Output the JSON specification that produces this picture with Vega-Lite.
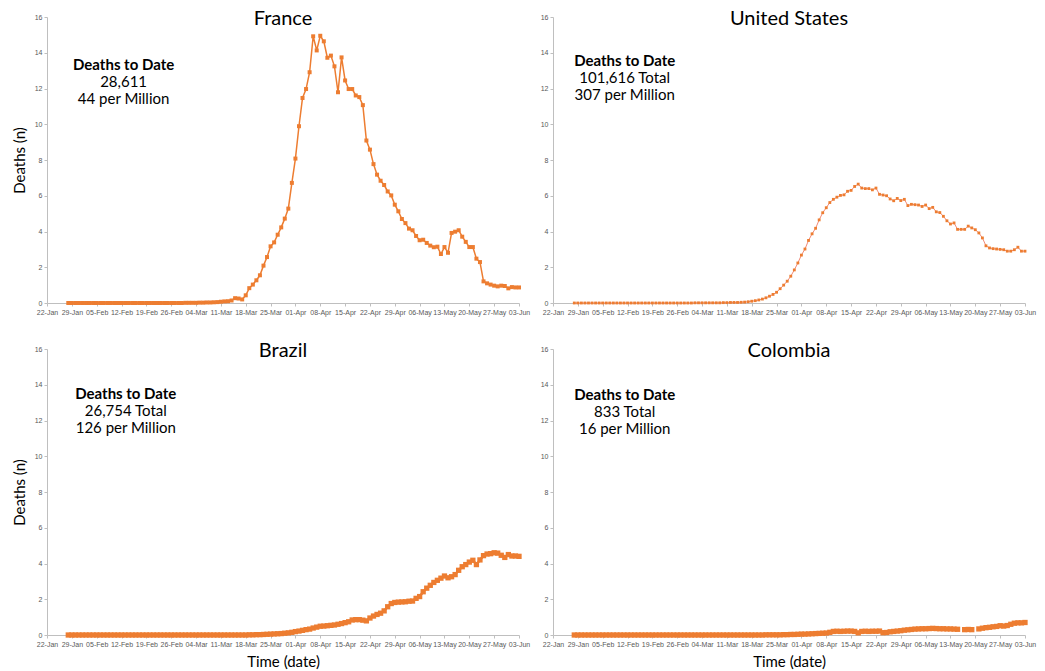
{
  "$schema": "https://vega.github.io/schema/vega-lite/v6.json",
  "padding": {"left": 12, "top": 8, "right": 5, "bottom": 2},
  "background": "white",
  "columns": 2,
  "spacing": {"row": 46, "column": 34},
  "bounds": "flush",
  "datasets": {
    "fr": [
      {"d":"2020-01-28","v":0},{"d":"2020-01-29","v":0},{"d":"2020-01-30","v":0},{"d":"2020-01-31","v":0},
      {"d":"2020-02-01","v":0},{"d":"2020-02-02","v":0},{"d":"2020-02-03","v":0},{"d":"2020-02-04","v":0},{"d":"2020-02-05","v":0},{"d":"2020-02-06","v":0},{"d":"2020-02-07","v":0},{"d":"2020-02-08","v":0},{"d":"2020-02-09","v":0},{"d":"2020-02-10","v":0},
      {"d":"2020-02-11","v":0},{"d":"2020-02-12","v":0},{"d":"2020-02-13","v":0},{"d":"2020-02-14","v":0},{"d":"2020-02-15","v":0},{"d":"2020-02-16","v":0},{"d":"2020-02-17","v":0},{"d":"2020-02-18","v":0},{"d":"2020-02-19","v":0},{"d":"2020-02-20","v":0},
      {"d":"2020-02-21","v":0},{"d":"2020-02-22","v":0},{"d":"2020-02-23","v":0},{"d":"2020-02-24","v":0},{"d":"2020-02-25","v":0},{"d":"2020-02-26","v":0},{"d":"2020-02-27","v":0},{"d":"2020-02-28","v":0},{"d":"2020-02-29","v":0},
      {"d":"2020-03-01","v":0.01},{"d":"2020-03-02","v":0.01},{"d":"2020-03-03","v":0.01},{"d":"2020-03-04","v":0.01},{"d":"2020-03-05","v":0.02},{"d":"2020-03-06","v":0.02},{"d":"2020-03-07","v":0.03},{"d":"2020-03-08","v":0.03},{"d":"2020-03-09","v":0.04},{"d":"2020-03-10","v":0.05},
      {"d":"2020-03-11","v":0.07},{"d":"2020-03-12","v":0.09},{"d":"2020-03-13","v":0.1},{"d":"2020-03-14","v":0.14},{"d":"2020-03-15","v":0.27},{"d":"2020-03-16","v":0.25},{"d":"2020-03-17","v":0.2},{"d":"2020-03-18","v":0.43},{"d":"2020-03-19","v":0.83},{"d":"2020-03-20","v":1.03},
      {"d":"2020-03-21","v":1.27},{"d":"2020-03-22","v":1.55},{"d":"2020-03-23","v":2.09},{"d":"2020-03-24","v":2.57},{"d":"2020-03-25","v":3.17},{"d":"2020-03-26","v":3.39},{"d":"2020-03-27","v":3.82},{"d":"2020-03-28","v":4.23},{"d":"2020-03-29","v":4.72},{"d":"2020-03-30","v":5.28},{"d":"2020-03-31","v":6.72},
      {"d":"2020-04-01","v":8.08},{"d":"2020-04-02","v":9.89},{"d":"2020-04-03","v":11.47},{"d":"2020-04-04","v":11.97},{"d":"2020-04-05","v":12.91},{"d":"2020-04-06","v":14.92},{"d":"2020-04-07","v":14.13},{"d":"2020-04-08","v":14.95},{"d":"2020-04-09","v":14.64},{"d":"2020-04-10","v":13.72},
      {"d":"2020-04-11","v":13.84},{"d":"2020-04-12","v":13.24},{"d":"2020-04-13","v":11.79},{"d":"2020-04-14","v":13.74},{"d":"2020-04-15","v":12.45},{"d":"2020-04-16","v":11.97},{"d":"2020-04-17","v":11.97},{"d":"2020-04-18","v":11.61},{"d":"2020-04-19","v":11.52},{"d":"2020-04-20","v":11.07},
      {"d":"2020-04-21","v":9.09},{"d":"2020-04-22","v":8.58},{"d":"2020-04-23","v":7.77},{"d":"2020-04-24","v":7.18},{"d":"2020-04-25","v":6.84},{"d":"2020-04-26","v":6.6},{"d":"2020-04-27","v":6.24},{"d":"2020-04-28","v":6.02},{"d":"2020-04-29","v":5.5},{"d":"2020-04-30","v":5.13},
      {"d":"2020-05-01","v":4.7},{"d":"2020-05-02","v":4.47},{"d":"2020-05-03","v":4.16},{"d":"2020-05-04","v":4.07},{"d":"2020-05-05","v":3.75},{"d":"2020-05-06","v":3.51},{"d":"2020-05-07","v":3.54},{"d":"2020-05-08","v":3.36},{"d":"2020-05-09","v":3.21},{"d":"2020-05-10","v":3.12},
      {"d":"2020-05-11","v":3.15},{"d":"2020-05-12","v":2.74},{"d":"2020-05-13","v":3.13},{"d":"2020-05-14","v":2.81},{"d":"2020-05-15","v":3.92},{"d":"2020-05-16","v":3.99},{"d":"2020-05-17","v":4.07},{"d":"2020-05-18","v":3.71},{"d":"2020-05-19","v":3.42},{"d":"2020-05-20","v":3.13},
      {"d":"2020-05-21","v":3.13},{"d":"2020-05-22","v":2.48},{"d":"2020-05-23","v":2.29},{"d":"2020-05-24","v":1.21},{"d":"2020-05-25","v":1.1},{"d":"2020-05-26","v":1.03},{"d":"2020-05-27","v":0.97},{"d":"2020-05-28","v":0.93},{"d":"2020-05-29","v":0.97},{"d":"2020-05-30","v":0.95},{"d":"2020-05-31","v":0.82},
      {"d":"2020-06-01","v":0.89},{"d":"2020-06-02","v":0.87},{"d":"2020-06-03","v":0.87}
    ],
    "us": [
      {"d":"2020-01-28","v":0},{"d":"2020-01-29","v":0},{"d":"2020-01-30","v":0},{"d":"2020-01-31","v":0},
      {"d":"2020-02-01","v":0},{"d":"2020-02-02","v":0},{"d":"2020-02-03","v":0},{"d":"2020-02-04","v":0},{"d":"2020-02-05","v":0},{"d":"2020-02-06","v":0},{"d":"2020-02-07","v":0},{"d":"2020-02-08","v":0},{"d":"2020-02-09","v":0},{"d":"2020-02-10","v":0},
      {"d":"2020-02-11","v":0},{"d":"2020-02-12","v":0},{"d":"2020-02-13","v":0},{"d":"2020-02-14","v":0},{"d":"2020-02-15","v":0},{"d":"2020-02-16","v":0},{"d":"2020-02-17","v":0},{"d":"2020-02-18","v":0},{"d":"2020-02-19","v":0},{"d":"2020-02-20","v":0},
      {"d":"2020-02-21","v":0},{"d":"2020-02-22","v":0},{"d":"2020-02-23","v":0},{"d":"2020-02-24","v":0},{"d":"2020-02-25","v":0},{"d":"2020-02-26","v":0},{"d":"2020-02-27","v":0},{"d":"2020-02-28","v":0},{"d":"2020-02-29","v":0},
      {"d":"2020-03-01","v":0},{"d":"2020-03-02","v":0.01},{"d":"2020-03-03","v":0.01},{"d":"2020-03-04","v":0.01},{"d":"2020-03-05","v":0.01},{"d":"2020-03-06","v":0.01},{"d":"2020-03-07","v":0.01},{"d":"2020-03-08","v":0.01},{"d":"2020-03-09","v":0.01},{"d":"2020-03-10","v":0.02},
      {"d":"2020-03-11","v":0.02},{"d":"2020-03-12","v":0.03},{"d":"2020-03-13","v":0.03},{"d":"2020-03-14","v":0.03},{"d":"2020-03-15","v":0.04},{"d":"2020-03-16","v":0.05},{"d":"2020-03-17","v":0.07},{"d":"2020-03-18","v":0.1},{"d":"2020-03-19","v":0.13},{"d":"2020-03-20","v":0.17},
      {"d":"2020-03-21","v":0.22},{"d":"2020-03-22","v":0.29},{"d":"2020-03-23","v":0.38},{"d":"2020-03-24","v":0.48},{"d":"2020-03-25","v":0.6},{"d":"2020-03-26","v":0.8},{"d":"2020-03-27","v":1.0},{"d":"2020-03-28","v":1.22},{"d":"2020-03-29","v":1.5},{"d":"2020-03-30","v":1.85},{"d":"2020-03-31","v":2.24},
      {"d":"2020-04-01","v":2.68},{"d":"2020-04-02","v":3.02},{"d":"2020-04-03","v":3.5},{"d":"2020-04-04","v":3.87},{"d":"2020-04-05","v":4.18},{"d":"2020-04-06","v":4.65},{"d":"2020-04-07","v":5.05},{"d":"2020-04-08","v":5.33},{"d":"2020-04-09","v":5.62},{"d":"2020-04-10","v":5.8},
      {"d":"2020-04-11","v":5.92},{"d":"2020-04-12","v":6.02},{"d":"2020-04-13","v":6.05},{"d":"2020-04-14","v":6.25},{"d":"2020-04-15","v":6.3},{"d":"2020-04-16","v":6.52},{"d":"2020-04-17","v":6.65},{"d":"2020-04-18","v":6.43},{"d":"2020-04-19","v":6.4},{"d":"2020-04-20","v":6.4},
      {"d":"2020-04-21","v":6.33},{"d":"2020-04-22","v":6.43},{"d":"2020-04-23","v":6.08},{"d":"2020-04-24","v":6.04},{"d":"2020-04-25","v":6.0},{"d":"2020-04-26","v":5.82},{"d":"2020-04-27","v":5.72},{"d":"2020-04-28","v":5.85},{"d":"2020-04-29","v":5.73},{"d":"2020-04-30","v":5.8},
      {"d":"2020-05-01","v":5.45},{"d":"2020-05-02","v":5.52},{"d":"2020-05-03","v":5.5},{"d":"2020-05-04","v":5.48},{"d":"2020-05-05","v":5.4},{"d":"2020-05-06","v":5.48},{"d":"2020-05-07","v":5.28},{"d":"2020-05-08","v":5.35},{"d":"2020-05-09","v":5.1},{"d":"2020-05-10","v":5.06},
      {"d":"2020-05-11","v":4.85},{"d":"2020-05-12","v":4.6},{"d":"2020-05-13","v":4.42},{"d":"2020-05-14","v":4.48},{"d":"2020-05-15","v":4.12},{"d":"2020-05-16","v":4.12},{"d":"2020-05-17","v":4.12},{"d":"2020-05-18","v":4.3},{"d":"2020-05-19","v":4.2},{"d":"2020-05-20","v":4.1},
      {"d":"2020-05-21","v":3.92},{"d":"2020-05-22","v":3.64},{"d":"2020-05-23","v":3.2},{"d":"2020-05-24","v":3.08},{"d":"2020-05-25","v":3.04},{"d":"2020-05-26","v":3.02},{"d":"2020-05-27","v":3.0},{"d":"2020-05-28","v":2.98},{"d":"2020-05-29","v":2.9},{"d":"2020-05-30","v":2.9},{"d":"2020-05-31","v":2.98},
      {"d":"2020-06-01","v":3.12},{"d":"2020-06-02","v":2.9},{"d":"2020-06-03","v":2.9}
    ],
    "br": [
      {"d":"2020-01-28","v":0},{"d":"2020-01-29","v":0},{"d":"2020-01-30","v":0},{"d":"2020-01-31","v":0},
      {"d":"2020-02-01","v":0},{"d":"2020-02-02","v":0},{"d":"2020-02-03","v":0},{"d":"2020-02-04","v":0},{"d":"2020-02-05","v":0},{"d":"2020-02-06","v":0},{"d":"2020-02-07","v":0},{"d":"2020-02-08","v":0},{"d":"2020-02-09","v":0},{"d":"2020-02-10","v":0},
      {"d":"2020-02-11","v":0},{"d":"2020-02-12","v":0},{"d":"2020-02-13","v":0},{"d":"2020-02-14","v":0},{"d":"2020-02-15","v":0},{"d":"2020-02-16","v":0},{"d":"2020-02-17","v":0},{"d":"2020-02-18","v":0},{"d":"2020-02-19","v":0},{"d":"2020-02-20","v":0},
      {"d":"2020-02-21","v":0},{"d":"2020-02-22","v":0},{"d":"2020-02-23","v":0},{"d":"2020-02-24","v":0},{"d":"2020-02-25","v":0},{"d":"2020-02-26","v":0},{"d":"2020-02-27","v":0},{"d":"2020-02-28","v":0},{"d":"2020-02-29","v":0},
      {"d":"2020-03-01","v":0},{"d":"2020-03-02","v":0},{"d":"2020-03-03","v":0},{"d":"2020-03-04","v":0},{"d":"2020-03-05","v":0},{"d":"2020-03-06","v":0},{"d":"2020-03-07","v":0},{"d":"2020-03-08","v":0},{"d":"2020-03-09","v":0},{"d":"2020-03-10","v":0},
      {"d":"2020-03-11","v":0},{"d":"2020-03-12","v":0},{"d":"2020-03-13","v":0},{"d":"2020-03-14","v":0},{"d":"2020-03-15","v":0},{"d":"2020-03-16","v":0},{"d":"2020-03-17","v":0},{"d":"2020-03-18","v":0},{"d":"2020-03-19","v":0.01},{"d":"2020-03-20","v":0.01},
      {"d":"2020-03-21","v":0.02},{"d":"2020-03-22","v":0.02},{"d":"2020-03-23","v":0.03},{"d":"2020-03-24","v":0.04},{"d":"2020-03-25","v":0.05},{"d":"2020-03-26","v":0.06},{"d":"2020-03-27","v":0.07},{"d":"2020-03-28","v":0.08},{"d":"2020-03-29","v":0.1},{"d":"2020-03-30","v":0.12},{"d":"2020-03-31","v":0.15},
      {"d":"2020-04-01","v":0.19},{"d":"2020-04-02","v":0.22},{"d":"2020-04-03","v":0.26},{"d":"2020-04-04","v":0.3},{"d":"2020-04-05","v":0.33},{"d":"2020-04-06","v":0.39},{"d":"2020-04-07","v":0.44},{"d":"2020-04-08","v":0.49},{"d":"2020-04-09","v":0.5},{"d":"2020-04-10","v":0.52},
      {"d":"2020-04-11","v":0.54},{"d":"2020-04-12","v":0.56},{"d":"2020-04-13","v":0.6},{"d":"2020-04-14","v":0.64},{"d":"2020-04-15","v":0.69},{"d":"2020-04-16","v":0.74},{"d":"2020-04-17","v":0.84},{"d":"2020-04-18","v":0.86},{"d":"2020-04-19","v":0.86},{"d":"2020-04-20","v":0.83},
      {"d":"2020-04-21","v":0.79},{"d":"2020-04-22","v":0.95},{"d":"2020-04-23","v":1.06},{"d":"2020-04-24","v":1.15},{"d":"2020-04-25","v":1.22},{"d":"2020-04-26","v":1.35},{"d":"2020-04-27","v":1.58},{"d":"2020-04-28","v":1.76},{"d":"2020-04-29","v":1.82},{"d":"2020-04-30","v":1.84},
      {"d":"2020-05-01","v":1.85},{"d":"2020-05-02","v":1.86},{"d":"2020-05-03","v":1.89},{"d":"2020-05-04","v":1.9},{"d":"2020-05-05","v":2.05},{"d":"2020-05-06","v":2.15},{"d":"2020-05-07","v":2.42},{"d":"2020-05-08","v":2.62},{"d":"2020-05-09","v":2.78},{"d":"2020-05-10","v":2.94},
      {"d":"2020-05-11","v":3.06},{"d":"2020-05-12","v":3.18},{"d":"2020-05-13","v":3.3},{"d":"2020-05-14","v":3.2},{"d":"2020-05-15","v":3.26},{"d":"2020-05-16","v":3.38},{"d":"2020-05-17","v":3.62},{"d":"2020-05-18","v":3.82},{"d":"2020-05-19","v":3.94},{"d":"2020-05-20","v":4.08},
      {"d":"2020-05-21","v":4.18},{"d":"2020-05-22","v":3.94},{"d":"2020-05-23","v":4.2},{"d":"2020-05-24","v":4.44},{"d":"2020-05-25","v":4.53},{"d":"2020-05-26","v":4.55},{"d":"2020-05-27","v":4.6},{"d":"2020-05-28","v":4.58},{"d":"2020-05-29","v":4.46},{"d":"2020-05-30","v":4.34},{"d":"2020-05-31","v":4.5},
      {"d":"2020-06-01","v":4.42},{"d":"2020-06-02","v":4.42},{"d":"2020-06-03","v":4.4}
    ],
    "co": [
      {"d":"2020-01-28","v":0},{"d":"2020-01-29","v":0},{"d":"2020-01-30","v":0},{"d":"2020-01-31","v":0},
      {"d":"2020-02-01","v":0},{"d":"2020-02-02","v":0},{"d":"2020-02-03","v":0},{"d":"2020-02-04","v":0},{"d":"2020-02-05","v":0},{"d":"2020-02-06","v":0},{"d":"2020-02-07","v":0},{"d":"2020-02-08","v":0},{"d":"2020-02-09","v":0},{"d":"2020-02-10","v":0},
      {"d":"2020-02-11","v":0},{"d":"2020-02-12","v":0},{"d":"2020-02-13","v":0},{"d":"2020-02-14","v":0},{"d":"2020-02-15","v":0},{"d":"2020-02-16","v":0},{"d":"2020-02-17","v":0},{"d":"2020-02-18","v":0},{"d":"2020-02-19","v":0},{"d":"2020-02-20","v":0},
      {"d":"2020-02-21","v":0},{"d":"2020-02-22","v":0},{"d":"2020-02-23","v":0},{"d":"2020-02-24","v":0},{"d":"2020-02-25","v":0},{"d":"2020-02-26","v":0},{"d":"2020-02-27","v":0},{"d":"2020-02-28","v":0},{"d":"2020-02-29","v":0},
      {"d":"2020-03-01","v":0},{"d":"2020-03-02","v":0},{"d":"2020-03-03","v":0},{"d":"2020-03-04","v":0},{"d":"2020-03-05","v":0},{"d":"2020-03-06","v":0},{"d":"2020-03-07","v":0},{"d":"2020-03-08","v":0},{"d":"2020-03-09","v":0},{"d":"2020-03-10","v":0},
      {"d":"2020-03-11","v":0},{"d":"2020-03-12","v":0},{"d":"2020-03-13","v":0},{"d":"2020-03-14","v":0},{"d":"2020-03-15","v":0},{"d":"2020-03-16","v":0},{"d":"2020-03-17","v":0},{"d":"2020-03-18","v":0},{"d":"2020-03-19","v":0},{"d":"2020-03-20","v":0},
      {"d":"2020-03-21","v":0},{"d":"2020-03-22","v":0.01},{"d":"2020-03-23","v":0.01},{"d":"2020-03-24","v":0.01},{"d":"2020-03-25","v":0.01},{"d":"2020-03-26","v":0.01},{"d":"2020-03-27","v":0.02},{"d":"2020-03-28","v":0.02},{"d":"2020-03-29","v":0.03},{"d":"2020-03-30","v":0.03},{"d":"2020-03-31","v":0.04},
      {"d":"2020-04-01","v":0.05},{"d":"2020-04-02","v":0.05},{"d":"2020-04-03","v":0.06},{"d":"2020-04-04","v":0.07},{"d":"2020-04-05","v":0.08},{"d":"2020-04-06","v":0.09},{"d":"2020-04-07","v":0.1},{"d":"2020-04-08","v":0.11},{"d":"2020-04-09","v":0.15},{"d":"2020-04-10","v":0.2},
      {"d":"2020-04-11","v":0.21},{"d":"2020-04-12","v":0.2},{"d":"2020-04-13","v":0.21},{"d":"2020-04-14","v":0.22},{"d":"2020-04-15","v":0.22},{"d":"2020-04-16","v":0.2},{"d":"2020-04-17","v":0.12},{"d":"2020-04-18","v":0.2},{"d":"2020-04-19","v":0.21},{"d":"2020-04-20","v":0.2},
      {"d":"2020-04-21","v":0.21},{"d":"2020-04-22","v":0.21},{"d":"2020-04-23","v":0.22},{"d":"2020-04-24","v":0.13},{"d":"2020-04-25","v":0.14},{"d":"2020-04-26","v":0.18},{"d":"2020-04-27","v":0.2},{"d":"2020-04-28","v":0.22},{"d":"2020-04-29","v":0.24},{"d":"2020-04-30","v":0.27},
      {"d":"2020-05-01","v":0.29},{"d":"2020-05-02","v":0.31},{"d":"2020-05-03","v":0.33},{"d":"2020-05-04","v":0.34},{"d":"2020-05-05","v":0.35},{"d":"2020-05-06","v":0.35},{"d":"2020-05-07","v":0.36},{"d":"2020-05-08","v":0.37},{"d":"2020-05-09","v":0.36},{"d":"2020-05-10","v":0.35},
      {"d":"2020-05-11","v":0.35},{"d":"2020-05-12","v":0.34},{"d":"2020-05-13","v":0.34},{"d":"2020-05-14","v":0.33},{"d":"2020-05-15","v":0.32},{"d":"2020-05-16","v":null},{"d":"2020-05-17","v":0.3},{"d":"2020-05-18","v":0.31},{"d":"2020-05-19","v":0.3},{"d":"2020-05-20","v":null},
      {"d":"2020-05-21","v":0.34},{"d":"2020-05-22","v":0.38},{"d":"2020-05-23","v":0.41},{"d":"2020-05-24","v":0.43},{"d":"2020-05-25","v":0.46},{"d":"2020-05-26","v":0.48},{"d":"2020-05-27","v":0.52},{"d":"2020-05-28","v":0.5},{"d":"2020-05-29","v":0.53},{"d":"2020-05-30","v":0.6},{"d":"2020-05-31","v":0.66},
      {"d":"2020-06-01","v":0.68},{"d":"2020-06-02","v":0.68},{"d":"2020-06-03","v":0.7}
    ]
  },
  "concat": [
    {
      "width": 472, "height": 286,
      "title": {"text": "France"},
      "data": {"name": "fr"},
      "layer": [
        {
          "mark": {"type": "line", "color": "#ED7D31", "strokeWidth": 1.5, "point": {"shape": "square", "size": 16, "filled": true, "color": "#ED7D31", "opacity": 1}},
          "encoding": {
            "x": {"field": "d", "type": "temporal", "scale": {"domain": [{"year":2020,"month":1,"date":22},{"year":2020,"month":6,"date":3}]},
              "axis": {"title": null, "format": "%d-%b", "tickCount": 40, "labelOverlap": false, "values": [{"year":2020,"month":1,"date":22},{"year":2020,"month":1,"date":29},{"year":2020,"month":2,"date":5},{"year":2020,"month":2,"date":12},{"year":2020,"month":2,"date":19},{"year":2020,"month":2,"date":26},{"year":2020,"month":3,"date":4},{"year":2020,"month":3,"date":11},{"year":2020,"month":3,"date":18},{"year":2020,"month":3,"date":25},{"year":2020,"month":4,"date":1},{"year":2020,"month":4,"date":8},{"year":2020,"month":4,"date":15},{"year":2020,"month":4,"date":22},{"year":2020,"month":4,"date":29},{"year":2020,"month":5,"date":6},{"year":2020,"month":5,"date":13},{"year":2020,"month":5,"date":20},{"year":2020,"month":5,"date":27},{"year":2020,"month":6,"date":3}]}},
            "y": {"field": "v", "type": "quantitative", "scale": {"domain": [0, 16], "nice": false}, "axis": {"title": "Deaths (n)", "tickCount": 20, "labelOverlap": false, "values": [0,2,4,6,8,10,12,14,16]}}
          }
        },
        {
          "data": {"values": [{}]},
          "mark": {"type": "text", "font": "Lato", "fontSize": 15, "fontWeight": "bold", "align": "center", "baseline": "alphabetic", "color": "#000000"},
          "encoding": {"x": {"datum": {"year":2020,"month":2,"date":12,"hours":14}, "type": "temporal"}, "y": {"datum": 13.05, "type": "quantitative"}, "text": {"value": "Deaths to Date"}}
        },
        {
          "data": {"values": [{}]},
          "mark": {"type": "text", "font": "Lato", "fontSize": 15, "align": "center", "baseline": "alphabetic", "lineHeight": 17, "color": "#000000"},
          "encoding": {"x": {"datum": {"year":2020,"month":2,"date":12,"hours":14}, "type": "temporal"}, "y": {"datum": 12.1, "type": "quantitative"}, "text": {"value": ["28,611", "44 per Million"]}}
        }
      ]
    },
    {
      "width": 472, "height": 286,
      "title": {"text": "United States"},
      "data": {"name": "us"},
      "layer": [
        {
          "mark": {"type": "line", "color": "#F18A78", "strokeWidth": 1, "point": {"shape": "square", "size": 8, "filled": true, "color": "#ED7D31", "opacity": 1}},
          "encoding": {
            "x": {"field": "d", "type": "temporal", "scale": {"domain": [{"year":2020,"month":1,"date":22},{"year":2020,"month":6,"date":3}]},
              "axis": {"title": null, "format": "%d-%b", "tickCount": 40, "labelOverlap": false, "values": [{"year":2020,"month":1,"date":22},{"year":2020,"month":1,"date":29},{"year":2020,"month":2,"date":5},{"year":2020,"month":2,"date":12},{"year":2020,"month":2,"date":19},{"year":2020,"month":2,"date":26},{"year":2020,"month":3,"date":4},{"year":2020,"month":3,"date":11},{"year":2020,"month":3,"date":18},{"year":2020,"month":3,"date":25},{"year":2020,"month":4,"date":1},{"year":2020,"month":4,"date":8},{"year":2020,"month":4,"date":15},{"year":2020,"month":4,"date":22},{"year":2020,"month":4,"date":29},{"year":2020,"month":5,"date":6},{"year":2020,"month":5,"date":13},{"year":2020,"month":5,"date":20},{"year":2020,"month":5,"date":27},{"year":2020,"month":6,"date":3}]}},
            "y": {"field": "v", "type": "quantitative", "scale": {"domain": [0, 16], "nice": false}, "axis": {"title": null, "tickCount": 20, "labelOverlap": false, "values": [0,2,4,6,8,10,12,14,16]}}
          }
        },
        {
          "data": {"values": [{}]},
          "mark": {"type": "text", "font": "Lato", "fontSize": 15, "fontWeight": "bold", "align": "center", "baseline": "alphabetic", "color": "#000000"},
          "encoding": {"x": {"datum": {"year":2020,"month":2,"date":11,"hours":5}, "type": "temporal"}, "y": {"datum": 13.27, "type": "quantitative"}, "text": {"value": "Deaths to Date"}}
        },
        {
          "data": {"values": [{}]},
          "mark": {"type": "text", "font": "Lato", "fontSize": 15, "align": "center", "baseline": "alphabetic", "lineHeight": 17, "color": "#000000"},
          "encoding": {"x": {"datum": {"year":2020,"month":2,"date":11,"hours":5}, "type": "temporal"}, "y": {"datum": 12.32, "type": "quantitative"}, "text": {"value": ["101,616 Total", "307 per Million"]}}
        }
      ]
    },
    {
      "width": 472, "height": 286,
      "title": {"text": "Brazil"},
      "data": {"name": "br"},
      "layer": [
        {
          "mark": {"type": "line", "color": "#ED7D31", "strokeWidth": 2.5, "point": {"shape": "square", "size": 28, "filled": true, "color": "#ED7D31", "opacity": 1}},
          "encoding": {
            "x": {"field": "d", "type": "temporal", "scale": {"domain": [{"year":2020,"month":1,"date":22},{"year":2020,"month":6,"date":3}]},
              "axis": {"title": "Time (date)", "format": "%d-%b", "tickCount": 40, "labelOverlap": false, "values": [{"year":2020,"month":1,"date":22},{"year":2020,"month":1,"date":29},{"year":2020,"month":2,"date":5},{"year":2020,"month":2,"date":12},{"year":2020,"month":2,"date":19},{"year":2020,"month":2,"date":26},{"year":2020,"month":3,"date":4},{"year":2020,"month":3,"date":11},{"year":2020,"month":3,"date":18},{"year":2020,"month":3,"date":25},{"year":2020,"month":4,"date":1},{"year":2020,"month":4,"date":8},{"year":2020,"month":4,"date":15},{"year":2020,"month":4,"date":22},{"year":2020,"month":4,"date":29},{"year":2020,"month":5,"date":6},{"year":2020,"month":5,"date":13},{"year":2020,"month":5,"date":20},{"year":2020,"month":5,"date":27},{"year":2020,"month":6,"date":3}]}},
            "y": {"field": "v", "type": "quantitative", "scale": {"domain": [0, 16], "nice": false}, "axis": {"title": "Deaths (n)", "tickCount": 20, "labelOverlap": false, "values": [0,2,4,6,8,10,12,14,16]}}
          }
        },
        {
          "data": {"values": [{}]},
          "mark": {"type": "text", "font": "Lato", "fontSize": 15, "fontWeight": "bold", "align": "center", "baseline": "alphabetic", "color": "#000000"},
          "encoding": {"x": {"datum": {"year":2020,"month":2,"date":13,"hours":5}, "type": "temporal"}, "y": {"datum": 13.2, "type": "quantitative"}, "text": {"value": "Deaths to Date"}}
        },
        {
          "data": {"values": [{}]},
          "mark": {"type": "text", "font": "Lato", "fontSize": 15, "align": "center", "baseline": "alphabetic", "lineHeight": 17, "color": "#000000"},
          "encoding": {"x": {"datum": {"year":2020,"month":2,"date":13,"hours":5}, "type": "temporal"}, "y": {"datum": 12.23, "type": "quantitative"}, "text": {"value": ["26,754 Total", "126 per Million"]}}
        }
      ]
    },
    {
      "width": 472, "height": 286,
      "title": {"text": "Colombia"},
      "data": {"name": "co"},
      "layer": [
        {
          "mark": {"type": "line", "color": "#ED7D31", "strokeWidth": 2.5, "point": {"shape": "square", "size": 28, "filled": true, "color": "#ED7D31", "opacity": 1}},
          "encoding": {
            "x": {"field": "d", "type": "temporal", "scale": {"domain": [{"year":2020,"month":1,"date":22},{"year":2020,"month":6,"date":3}]},
              "axis": {"title": "Time (date)", "format": "%d-%b", "tickCount": 40, "labelOverlap": false, "values": [{"year":2020,"month":1,"date":22},{"year":2020,"month":1,"date":29},{"year":2020,"month":2,"date":5},{"year":2020,"month":2,"date":12},{"year":2020,"month":2,"date":19},{"year":2020,"month":2,"date":26},{"year":2020,"month":3,"date":4},{"year":2020,"month":3,"date":11},{"year":2020,"month":3,"date":18},{"year":2020,"month":3,"date":25},{"year":2020,"month":4,"date":1},{"year":2020,"month":4,"date":8},{"year":2020,"month":4,"date":15},{"year":2020,"month":4,"date":22},{"year":2020,"month":4,"date":29},{"year":2020,"month":5,"date":6},{"year":2020,"month":5,"date":13},{"year":2020,"month":5,"date":20},{"year":2020,"month":5,"date":27},{"year":2020,"month":6,"date":3}]}},
            "y": {"field": "v", "type": "quantitative", "scale": {"domain": [0, 16], "nice": false}, "axis": {"title": null, "tickCount": 20, "labelOverlap": false, "values": [0,2,4,6,8,10,12,14,16]}}
          }
        },
        {
          "data": {"values": [{}]},
          "mark": {"type": "text", "font": "Lato", "fontSize": 15, "fontWeight": "bold", "align": "center", "baseline": "alphabetic", "color": "#000000"},
          "encoding": {"x": {"datum": {"year":2020,"month":2,"date":11,"hours":5}, "type": "temporal"}, "y": {"datum": 13.14, "type": "quantitative"}, "text": {"value": "Deaths to Date"}}
        },
        {
          "data": {"values": [{}]},
          "mark": {"type": "text", "font": "Lato", "fontSize": 15, "align": "center", "baseline": "alphabetic", "lineHeight": 17, "color": "#000000"},
          "encoding": {"x": {"datum": {"year":2020,"month":2,"date":11,"hours":5}, "type": "temporal"}, "y": {"datum": 12.17, "type": "quantitative"}, "text": {"value": ["833 Total", "16 per Million"]}}
        }
      ]
    }
  ],
  "config": {
    "view": {"stroke": null},
    "font": "Lato",
    "axis": {"grid": false, "domainColor": "#BFBFBF", "tickColor": "#BFBFBF", "tickSize": 3, "labelColor": "#595959", "labelFont": "Liberation Sans", "labelFontSize": 7, "labelPadding": 2, "titleFont": "Lato", "titleFontSize": 15, "titleFontWeight": "normal", "titleColor": "#000000"},
    "axisX": {"labelAngle": 0, "labelOverlap": false, "labelFlush": false, "titlePadding": 7},
    "axisY": {"titlePadding": 7, "labelOverlap": false},
    "title": {"font": "Lato", "fontSize": 20, "fontWeight": "normal", "color": "#000000", "anchor": "middle", "frame": "group", "baseline": "alphabetic", "offset": -15.7}
  }
}
